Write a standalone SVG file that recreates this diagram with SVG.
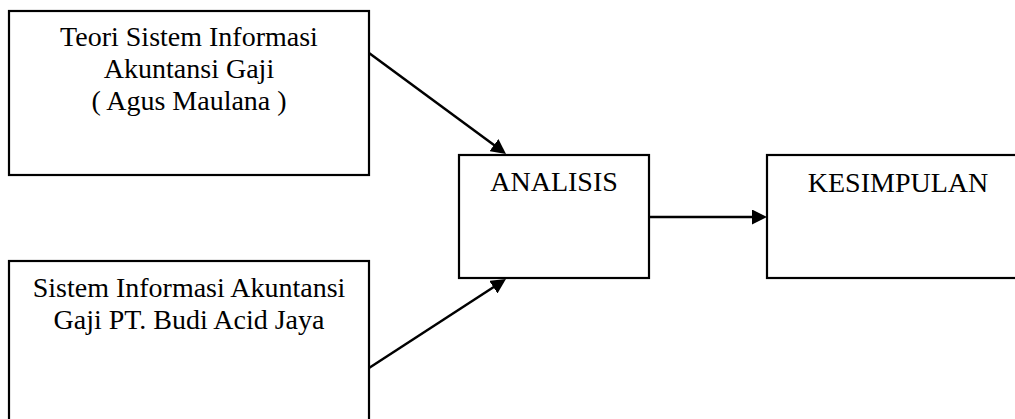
<svg xmlns="http://www.w3.org/2000/svg" width="1015" height="419" viewBox="0 0 1015 419">
<style>
.box{fill:#fff;stroke:#000;stroke-width:2.2}
.t{font-family:"Liberation Serif","Times New Roman",serif;font-size:28px;fill:#000;text-anchor:middle}
.c{stroke:#000;stroke-width:2.5;fill:none;marker-end:url(#ah)}
</style>
<defs>
<marker id="ah" viewBox="0 0 15 15" refX="11" refY="7.5" markerWidth="15" markerHeight="15" markerUnits="userSpaceOnUse" orient="auto">
<path d="M0,0 L15,7.5 L0,15 z" fill="#000"/>
</marker>
</defs>
<rect width="1015" height="419" fill="#fff"/>
<g id="teori">
<rect class="box" x="9" y="11" width="360" height="164"/>
<text class="t" x="189" y="46">Teori Sistem Informasi</text>
<text class="t" x="189" y="78">Akuntansi Gaji</text>
<text class="t" x="189" y="110">( Agus Maulana )</text>
</g>
<g id="sistem">
<rect class="box" x="9" y="261" width="360" height="170"/>
<text class="t" x="189" y="297">Sistem Informasi Akuntansi</text>
<text class="t" x="189" y="329">Gaji PT. Budi Acid Jaya</text>
</g>
<g id="analisis">
<rect class="box" x="459" y="155" width="190" height="123"/>
<text class="t" x="554" y="191">ANALISIS</text>
</g>
<g id="kesimpulan">
<rect class="box" x="767" y="155" width="260" height="123"/>
<text class="t" x="898" y="192">KESIMPULAN</text>
</g>
<g id="connectors">
<line class="c" x1="369" y1="53" x2="502.8" y2="151.6"/>
<line class="c" x1="369" y1="368" x2="502.6" y2="281.2"/>
<line class="c" x1="649" y1="217" x2="763" y2="217"/>
</g>
</svg>
